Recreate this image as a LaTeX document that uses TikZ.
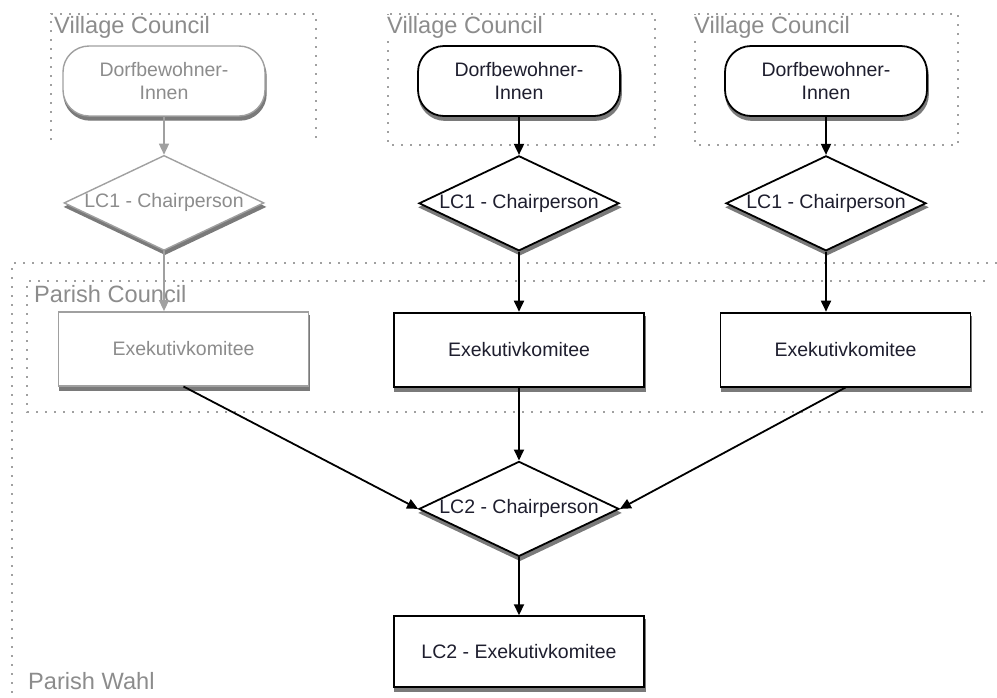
\documentclass[tikz,border=0pt]{standalone}
\usepackage{fontspec}
\setmainfont{Liberation Sans}
\usetikzlibrary{shapes.geometric, arrows.meta, positioning}
\definecolor{boxgray}{HTML}{A0A0A0}
\definecolor{fadegray}{HTML}{8C8C8C}
\definecolor{textdark}{HTML}{1E1E2E}
\definecolor{shadegray}{HTML}{7A7A7A}

\begin{document}
\begin{tikzpicture}[
    x=1pt, y=-1pt,
    every node/.style={font=\fontsize{19.5}{23.5}\selectfont},
    dropshade/.style={preaction={fill=shadegray, draw=shadegray,
                      transform canvas={yshift=-4pt, xshift=1pt}}},
    term/.style={draw, line width=1.8pt, rounded corners=26pt, fill=white,
                 minimum width=202pt, minimum height=70pt, align=center,
                 text=textdark, dropshade},
    decision/.style={diamond, aspect=2, draw, line width=1.8pt, fill=white,
                     minimum width=200pt, minimum height=95pt, inner sep=0pt,
                     text=textdark, dropshade},
    process/.style={rectangle, draw, line width=1.8pt, fill=white,
                    minimum width=250pt, minimum height=74pt,
                    text=textdark, dropshade},
    faded/.style={draw=boxgray, line width=1.4pt, text=fadegray},
    flow/.style={-{Triangle[length=11pt, width=10pt]}, line width=1.8pt},
    group/.style={draw=boxgray, line width=2.2pt, dash pattern=on 2pt off 7pt},
    grouplabel/.style={font=\fontsize{23.6}{28}\selectfont, text=fadegray,
                       fill=white, inner sep=1pt, anchor=north west},
]
    \useasboundingbox (0,0) rectangle (997,697);

    % Groups
    \draw[group] (997,263) -- (12,263) -- (12,700);
    \draw[group] (985,281) -- (27,281) -- (27,412) -- (985,412);
    \draw[group] (51,140) -- (51,14) -- (316,14) -- (316,140);
    \draw[group] (388,14) rectangle (655,145);
    \draw[group] (695,14) rectangle (958,145);

    \node[grouplabel] (vc1) at (53,15) {Village Council};
    \node[grouplabel] (vc2) at (386,15) {Village Council};
    \node[grouplabel] (vc3) at (693,15) {Village Council};
    \node[grouplabel, fill=none] (pc) at (33,284) {Parish Council};
    \node[grouplabel, fill=none] (pw) at (27,671) {Parish Wahl};

    % Villages
    \node[term, faded] (dorf1) at (164,81) {Dorfbewohner-\\Innen};
    \node[term] (dorf2) at (519,81) {Dorfbewohner-\\Innen};
    \node[term] (dorf3) at (826,81) {Dorfbewohner-\\Innen};

    \node[decision, faded, below=38pt of dorf1] (lc1a) {\makebox[0pt]{LC1 - Chairperson}};
    \node[decision, below=38pt of dorf2] (lc1b) {\makebox[0pt]{LC1 - Chairperson}};
    \node[decision, below=38pt of dorf3] (lc1c) {\makebox[0pt]{LC1 - Chairperson}};

    % Parish
    \node[process, faded, below=60pt of lc1a, xshift=19.5pt] (exek1) {Exekutivkomitee};
    \node[process, below=60pt of lc1b] (exek2) {Exekutivkomitee};
    \node[process, below=60pt of lc1c, xshift=19.5pt] (exek3) {Exekutivkomitee};

    \node[decision, below=73pt of exek2] (lc2) {\makebox[0pt]{LC2 - Chairperson}};
    \node[process, minimum height=71pt, below=58pt of lc2] (lc2exek) {LC2 - Exekutivkomitee};

    % Connections
    \draw[flow, faded] (dorf1) -- (lc1a);
    \draw[flow] (dorf2) -- (lc1b);
    \draw[flow] (dorf3) -- (lc1c);
    \draw[flow, faded] (lc1a) -- (lc1a |- exek1.north);
    \draw[flow] (lc1b) -- (lc1b |- exek2.north);
    \draw[flow] (lc1c) -- (lc1c |- exek3.north);
    \draw[flow] (exek1.south) -- (lc2.west);
    \draw[flow] (exek2) -- (lc2);
    \draw[flow] (exek3.south) -- (lc2.east);
    \draw[flow] (lc2) -- (lc2exek);
\end{tikzpicture}
\end{document}
